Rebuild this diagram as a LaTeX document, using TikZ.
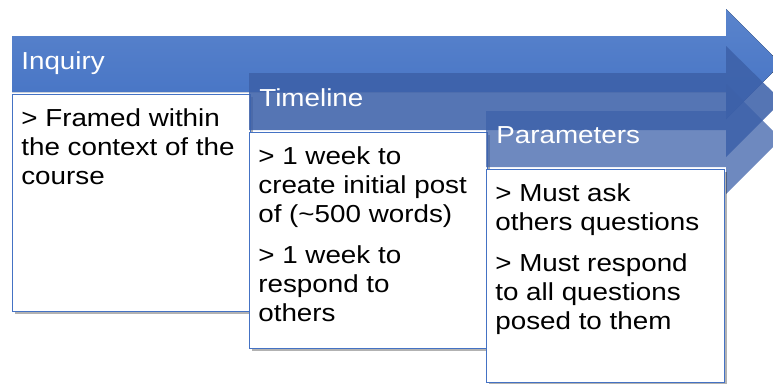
\documentclass[tikz,border=0pt]{standalone}
\usepackage{fontspec}
\setmainfont{Liberation Sans}[FakeStretch=1.13]
\usetikzlibrary{positioning, shadows}
\definecolor{stepBlue}{HTML}{4472C4}
\definecolor{stepTop}{HTML}{5A84CC}
\definecolor{stepDark}{HTML}{3D61A9}

\begin{document}
\begin{tikzpicture}[
    x=0.02cm, y=-0.02cm,
    band/.style={fill=stepDark},
    head/.style={font=\fontsize{14}{16.4}\selectfont, text=white,
                 anchor=base west, inner sep=0pt},
    card/.style={rectangle, draw=stepBlue, line width=0.6pt, fill=white,
                 anchor=north west, minimum width=4.76cm,
                 drop shadow={shadow xshift=1.2pt, shadow yshift=-1.2pt,
                              fill=black, opacity=0.3}},
    body/.style={font=\fontsize{14}{16.4}\selectfont, align=left,
                 inner sep=0pt},
  ]
    \useasboundingbox (0,0) rectangle (773,383);
    \clip (0,0) rectangle (773,383);

    % step 1
    \fill[top color=stepTop, bottom color=stepBlue]
      (12,36) -- (726,36) -- (726,9) -- (781,64) -- (726,119) -- (726,92) -- (12,92) -- cycle;
    \node[head] (h1) at (21,69) {Inquiry};
    \node[card, minimum height=4.34cm] (card1) at (12,94) {};
    \node[body, below right=7pt and 0.18cm of card1.north west] (t1)
      {\strut> Framed within\\the context of the\\course};

    % step 2
    \fill[band, fill opacity=0.875]
      (249,73) -- (726,73) -- (726,46) -- (782,101) -- (726,157) -- (726,130) -- (249,130) -- cycle;
    \node[head] (h2) at (259,106) {Timeline};
    \node[card, minimum height=4.32cm] (card2) at (249,132) {};
    \node[body, below right=7pt and 0.18cm of card2.north west] (t2)
      {\strut> 1 week to\\create initial post\\of (\textasciitilde500 words)\\[7pt]
       > 1 week to\\respond to\\others};

    % step 3
    \fill[band, fill opacity=0.75]
      (486,111) -- (726,111) -- (726,84) -- (781,139) -- (726,194) -- (726,167) -- (486,167) -- cycle;
    \node[head] (h3) at (496,143) {Parameters};
    \node[card, minimum height=4.26cm] (card3) at (486,169) {};
    \node[body, below right=7pt and 0.18cm of card3.north west] (t3)
      {\strut> Must ask\\others questions\\[7pt]
       > Must respond\\to all questions\\posed to them};
\end{tikzpicture}
\end{document}
